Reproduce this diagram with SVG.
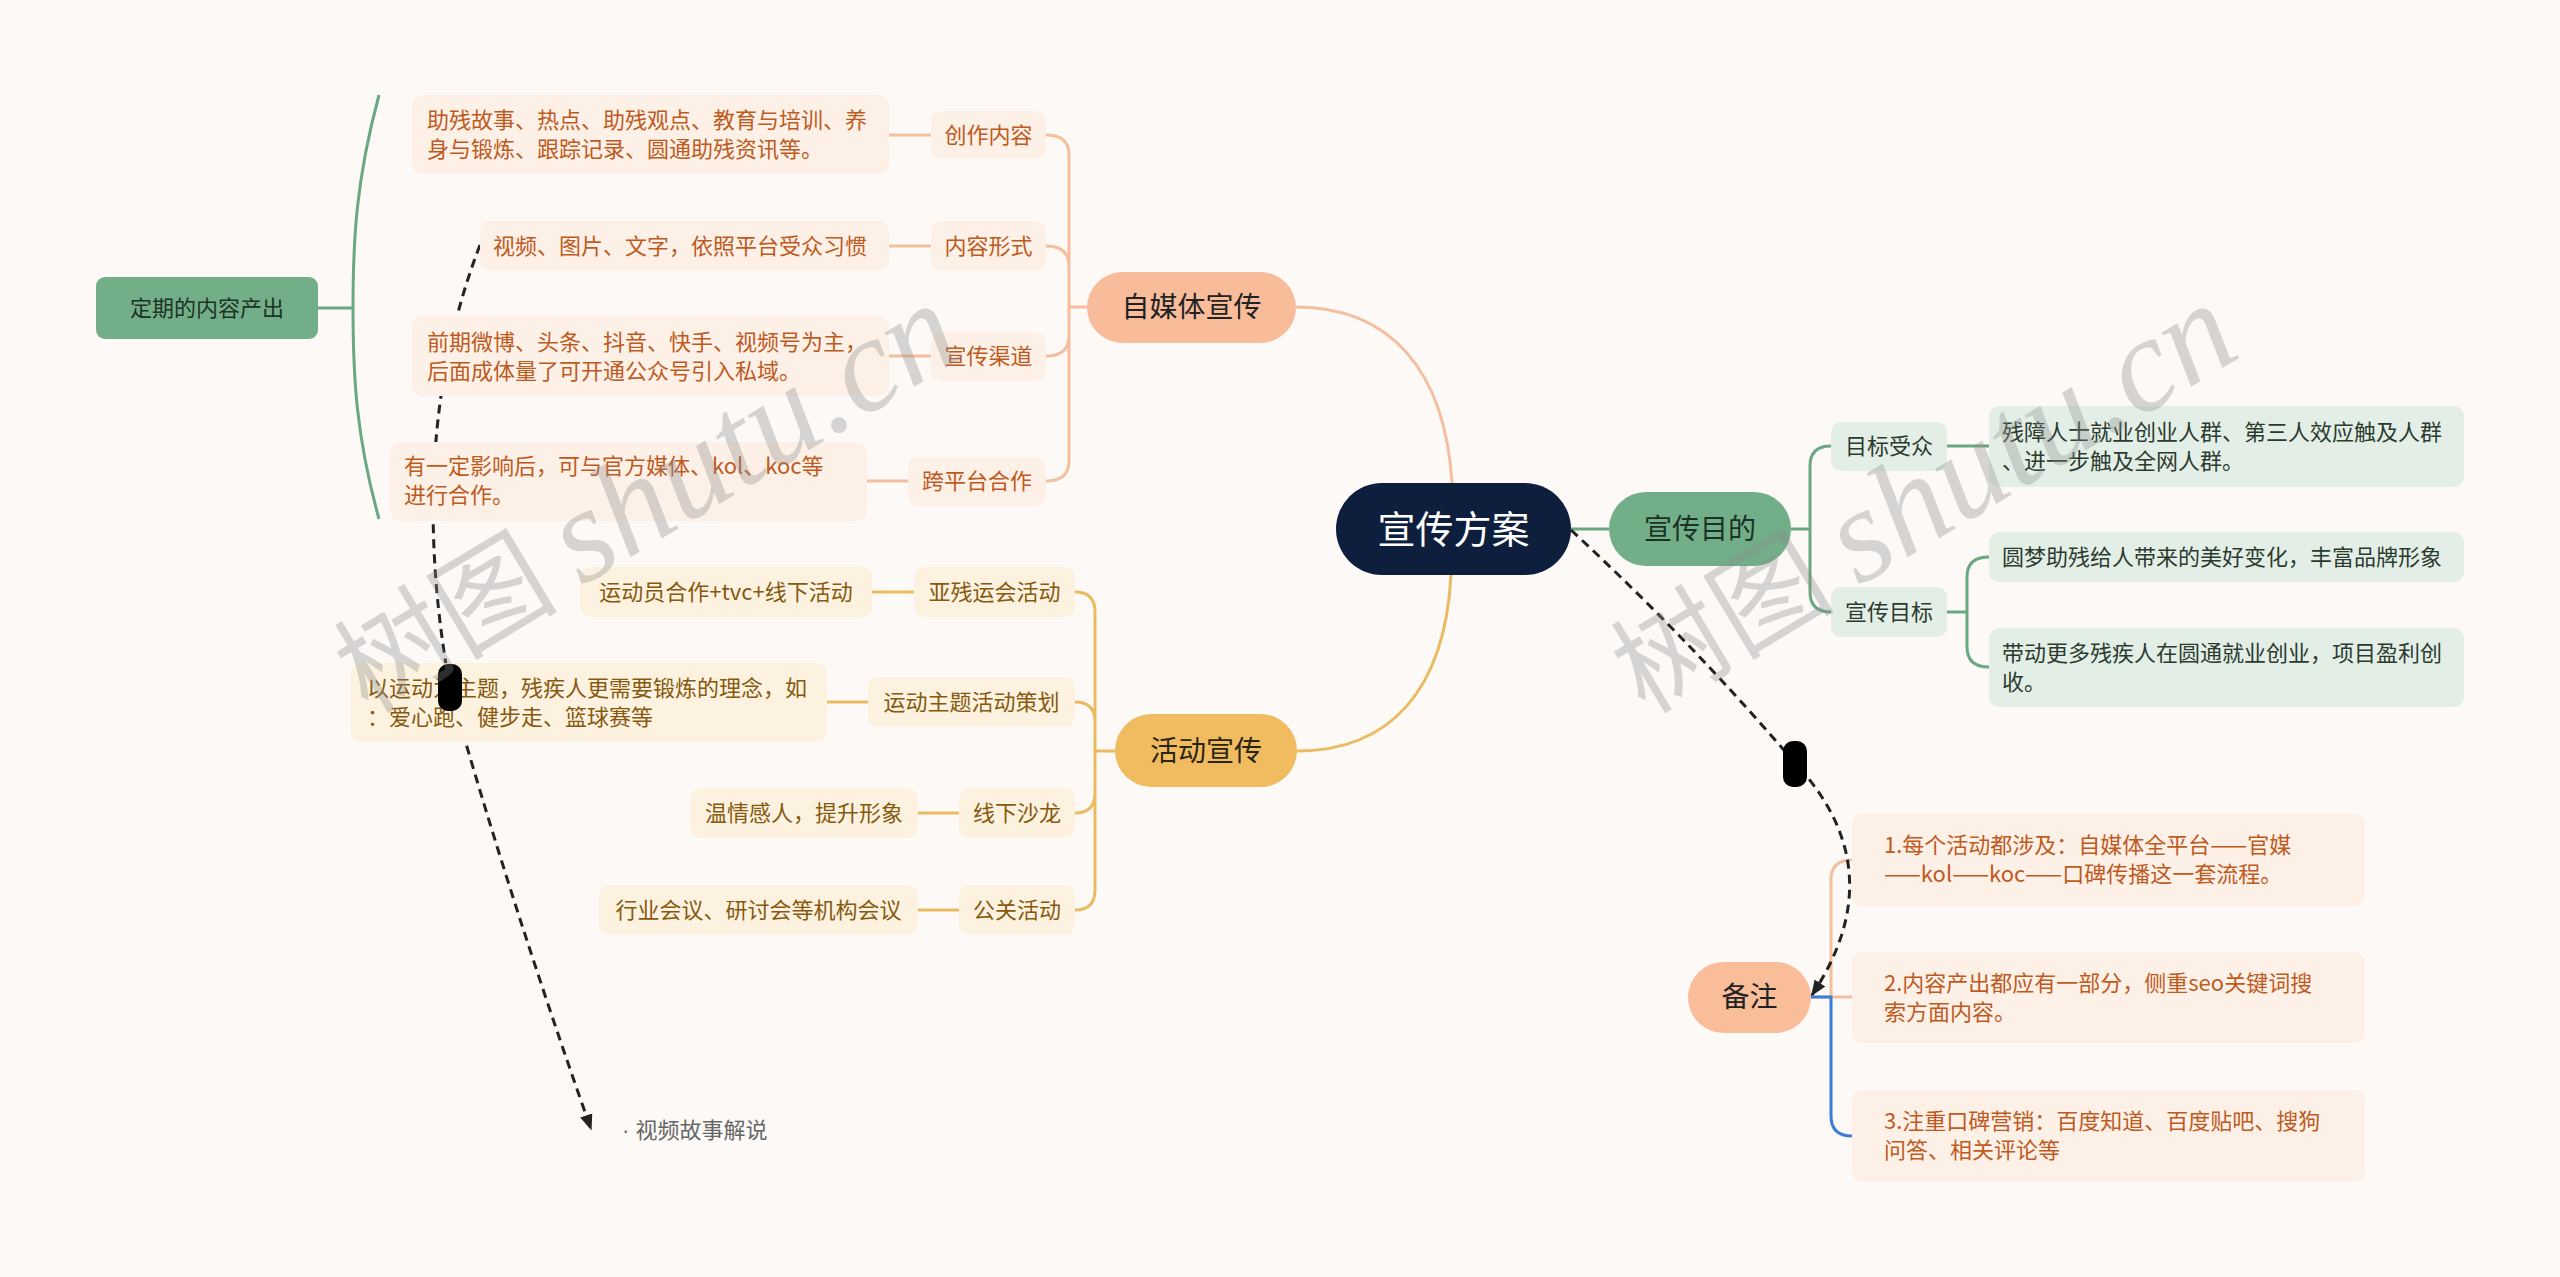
<svg xmlns="http://www.w3.org/2000/svg" width="2560" height="1277" viewBox="0 0 2560 1277">
<defs>
<style>
text{font-family:"Noto Sans CJK SC","Noto Sans",sans-serif;}
.t22{font-size:22px;}
.or{fill:#bf5a1f;}
.gd{fill:#87590f;}
.gr{fill:#2b3b30;}
.lf-or{fill:#fdf0e6;}
.lf-gd{fill:#fcf2df;}
.lf-gr{fill:#e3efe6;}
.c-or{fill:none;stroke:#f4bf9f;stroke-width:3;}
.c-gd{fill:none;stroke:#ebbb62;stroke-width:3;}
.c-gr{fill:none;stroke:#6aa882;stroke-width:3;}
.c-bl{fill:none;stroke:#3b7dd8;stroke-width:3;}
.rel{fill:none;stroke:#222;stroke-width:3;stroke-dasharray:9 6;}
.wm{fill:#8c8c8c;opacity:0.33;}
</style>
<marker id="arr" viewBox="0 0 10 10" refX="9" refY="5" markerWidth="16" markerHeight="16" markerUnits="userSpaceOnUse" orient="auto">
<path d="M0,1 L10,5 L0,9 z" fill="#222"/>
</marker>
</defs>
<rect x="0" y="0" width="2560" height="1277" fill="#fcf9f7"/>

<g id="connectors">
<path class="c-or" d="M1452,483 C1445,370 1390,307 1296,307"/>
<path class="c-or" d="M1087,307 H1069 M1069,307 V155 Q1069,135 1046,135 M1069,307 V266 Q1069,246 1046,246 M1069,307 V336 Q1069,356 1046,356 M1069,307 V461 Q1069,481 1046,481"/>
<path class="c-or" d="M889,135 H931 M889,246 H931 M889,356 H931 M867,481 H908"/>
<path class="c-gd" d="M1451,575 C1445,690 1390,751 1297,751"/>
<path class="c-gd" d="M1115,751 H1095 M1095,751 V612 Q1095,592 1075,592 M1095,751 V722 Q1095,702 1075,702 M1095,751 V793 Q1095,813 1075,813 M1095,751 V890 Q1095,910 1075,910"/>
<path class="c-gd" d="M872,592 H914 M827,702 H868 M918,813 H959 M918,910 H959"/>
<path class="c-gr" d="M1571,529 H1609 M1791,529 H1810 M1810,529 V466 Q1810,446 1831,446 M1810,529 V592 Q1810,612 1831,612"/>
<path class="c-gr" d="M1947,446 H1989 M1947,612 H1967 M1967,612 V577 Q1967,557 1989,557 M1967,612 V647 Q1967,667 1989,667"/>
<path class="c-gr" d="M318,308 H353 M379,95 C356,180 353,240 353,308 C353,376 356,436 379,519"/>
<path class="c-or" d="M1811,997 H1852 M1831,997 V880 Q1831,860 1852,860"/>
<path class="c-bl" d="M1811,997 H1831 V1116 Q1831,1136 1852,1136"/>
<path class="rel" d="M1571,530 Q1690,640 1795,763 Q1895,870 1812,995" marker-end="url(#arr)"/>
<path class="rel" d="M480,245 Q405,440 450,688 Q510,900 591,1129" marker-end="url(#arr)"/>
</g>

<g id="root">
<rect x="1336" y="483" width="235" height="92" rx="46" fill="#0d1f3c"/>
<text x="1453.5" y="543" font-size="38" fill="#ffffff" text-anchor="middle">宣传方案</text>
</g>

<g id="n-zimeiti">
<rect x="1087" y="272" width="209" height="71" rx="35.5" fill="#f8bc9a"/>
<text x="1191.5" y="317" font-size="28" fill="#222" text-anchor="middle">自媒体宣传</text>
</g>
<g id="n-chuangzuo">
<rect x="931" y="111" width="115" height="48" rx="10" class="lf-or"/>
<text x="988.5" y="143" class="t22 or" text-anchor="middle">创作内容</text>
</g>
<g id="l-chuangzuo">
<rect x="412" y="95" width="477" height="79" rx="10" class="lf-or"/>
<text x="427" y="128" class="t22 or">助残故事、热点、助残观点、教育与培训、养</text>
<text x="427" y="157" class="t22 or">身与锻炼、跟踪记录、圆通助残资讯等。</text>
</g>
<g id="n-xingshi">
<rect x="931" y="221" width="115" height="50" rx="10" class="lf-or"/>
<text x="988.5" y="254" class="t22 or" text-anchor="middle">内容形式</text>
</g>
<g id="l-xingshi">
<rect x="480" y="221" width="409" height="50" rx="10" class="lf-or"/>
<text x="493" y="254" class="t22 or">视频、图片、文字，依照平台受众习惯</text>
</g>
<g id="n-qudao">
<rect x="931" y="332" width="115" height="49" rx="10" class="lf-or"/>
<text x="988.5" y="364" class="t22 or" text-anchor="middle">宣传渠道</text>
</g>
<g id="l-qudao">
<rect x="412" y="316" width="477" height="80" rx="10" class="lf-or"/>
<text x="427" y="350" class="t22 or">前期微博、头条、抖音、快手、视频号为主，</text>
<text x="427" y="379" class="t22 or">后面成体量了可开通公众号引入私域。</text>
</g>
<g id="n-kuapingtai">
<rect x="908" y="457" width="138" height="49" rx="10" class="lf-or"/>
<text x="977" y="489" class="t22 or" text-anchor="middle">跨平台合作</text>
</g>
<g id="l-kuapingtai">
<rect x="390" y="442" width="477" height="79" rx="10" class="lf-or"/>
<text x="404" y="474" class="t22 or">有一定影响后，可与官方媒体、kol、koc等</text>
<text x="404" y="503" class="t22 or">进行合作。</text>
</g>
<g id="summary">
<rect x="96" y="277" width="222" height="62" rx="9" fill="#72ae88"/>
<text x="207" y="316" class="t22" fill="#1d3325" text-anchor="middle">定期的内容产出</text>
</g>

<g id="n-huodong">
<rect x="1115" y="714" width="182" height="73" rx="36.5" fill="#f0bc5f"/>
<text x="1206" y="761" font-size="28" fill="#2a2412" text-anchor="middle">活动宣传</text>
</g>
<g id="n-yacan">
<rect x="914" y="567" width="161" height="50" rx="10" class="lf-gd"/>
<text x="994.5" y="600" class="t22 gd" text-anchor="middle">亚残运会活动</text>
</g>
<g id="l-yacan">
<rect x="580" y="567" width="292" height="50" rx="10" class="lf-gd"/>
<text x="726" y="600" class="t22 gd" text-anchor="middle">运动员合作+tvc+线下活动</text>
</g>
<g id="n-yundong">
<rect x="868" y="677" width="207" height="50" rx="10" class="lf-gd"/>
<text x="971.5" y="710" class="t22 gd" text-anchor="middle">运动主题活动策划</text>
</g>
<g id="l-yundong">
<rect x="351" y="663" width="476" height="79" rx="10" class="lf-gd"/>
<text x="367" y="696" class="t22 gd">以运动为主题，残疾人更需要锻炼的理念，如</text>
<text x="367" y="725" class="t22 gd">：爱心跑、健步走、篮球赛等</text>
</g>
<g id="n-shalong">
<rect x="959" y="788" width="116" height="50" rx="10" class="lf-gd"/>
<text x="1017" y="821" class="t22 gd" text-anchor="middle">线下沙龙</text>
</g>
<g id="l-shalong">
<rect x="690" y="788" width="228" height="50" rx="10" class="lf-gd"/>
<text x="804" y="821" class="t22 gd" text-anchor="middle">温情感人，提升形象</text>
</g>
<g id="n-gongguan">
<rect x="959" y="885" width="116" height="50" rx="10" class="lf-gd"/>
<text x="1017" y="918" class="t22 gd" text-anchor="middle">公关活动</text>
</g>
<g id="l-gongguan">
<rect x="599" y="885" width="319" height="50" rx="10" class="lf-gd"/>
<text x="758.5" y="918" class="t22 gd" text-anchor="middle">行业会议、研讨会等机构会议</text>
</g>

<g id="n-mudi">
<rect x="1609" y="492" width="182" height="74" rx="37" fill="#72ae88"/>
<text x="1700" y="539" font-size="28" fill="#1a3324" text-anchor="middle">宣传目的</text>
</g>
<g id="n-shouzhong">
<rect x="1831" y="422" width="116" height="49" rx="10" class="lf-gr"/>
<text x="1889" y="454" class="t22 gr" text-anchor="middle">目标受众</text>
</g>
<g id="l-shouzhong">
<rect x="1989" y="406" width="475" height="81" rx="10" class="lf-gr"/>
<text x="2002" y="440" class="t22 gr">残障人士就业创业人群、第三人效应触及人群</text>
<text x="2002" y="469" class="t22 gr">、进一步触及全网人群。</text>
</g>
<g id="n-mubiao">
<rect x="1831" y="587" width="116" height="50" rx="10" class="lf-gr"/>
<text x="1889" y="620" class="t22 gr" text-anchor="middle">宣传目标</text>
</g>
<g id="l-mubiao1">
<rect x="1989" y="532" width="475" height="50" rx="10" class="lf-gr"/>
<text x="2002" y="565" class="t22 gr">圆梦助残给人带来的美好变化，丰富品牌形象</text>
</g>
<g id="l-mubiao2">
<rect x="1989" y="628" width="475" height="79" rx="10" class="lf-gr"/>
<text x="2002" y="661" class="t22 gr">带动更多残疾人在圆通就业创业，项目盈利创</text>
<text x="2002" y="690" class="t22 gr">收。</text>
</g>

<g id="n-beizhu">
<rect x="1688" y="962" width="123" height="71" rx="35.5" fill="#f9bd9a"/>
<text x="1749.5" y="1007" font-size="28" fill="#222" text-anchor="middle">备注</text>
</g>
<g id="l-note1">
<rect x="1852" y="814" width="513" height="92" rx="10" class="lf-or"/>
<text x="1884" y="853" class="t22 or">1.每个活动都涉及：自媒体全平台——官媒</text>
<text x="1884" y="882" class="t22 or">——kol——koc——口碑传播这一套流程。</text>
</g>
<g id="l-note2">
<rect x="1852" y="952" width="513" height="91" rx="10" class="lf-or"/>
<text x="1884" y="991" class="t22 or">2.内容产出都应有一部分，侧重seo关键词搜</text>
<text x="1884" y="1020" class="t22 or">索方面内容。</text>
</g>
<g id="l-note3">
<rect x="1852" y="1090" width="513" height="92" rx="10" class="lf-or"/>
<text x="1884" y="1129" class="t22 or">3.注重口碑营销：百度知道、百度贴吧、搜狗</text>
<text x="1884" y="1158" class="t22 or">问答、相关评论等</text>
</g>

<g id="rel-label">
<text x="622" y="1138" class="t22" fill="#666"><tspan font-family="Liberation Sans, sans-serif">· </tspan>视频故事解说</text>
</g>
<g id="handles">
<rect x="1783" y="741" width="24" height="46" rx="10" fill="#000"/>
<rect x="438" y="664" width="24" height="47" rx="10" fill="#000"/>
</g>

<g id="watermark">
<text class="wm" transform="translate(368,715) rotate(-31)"><tspan font-size="112">树图 </tspan><tspan font-size="134" font-family="Liberation Serif, serif" font-style="italic">shutu.cn</tspan></text>
<text class="wm" transform="translate(1645,715) rotate(-31)"><tspan font-size="112">树图 </tspan><tspan font-size="134" font-family="Liberation Serif, serif" font-style="italic">shutu.cn</tspan></text>
</g>
</svg>
